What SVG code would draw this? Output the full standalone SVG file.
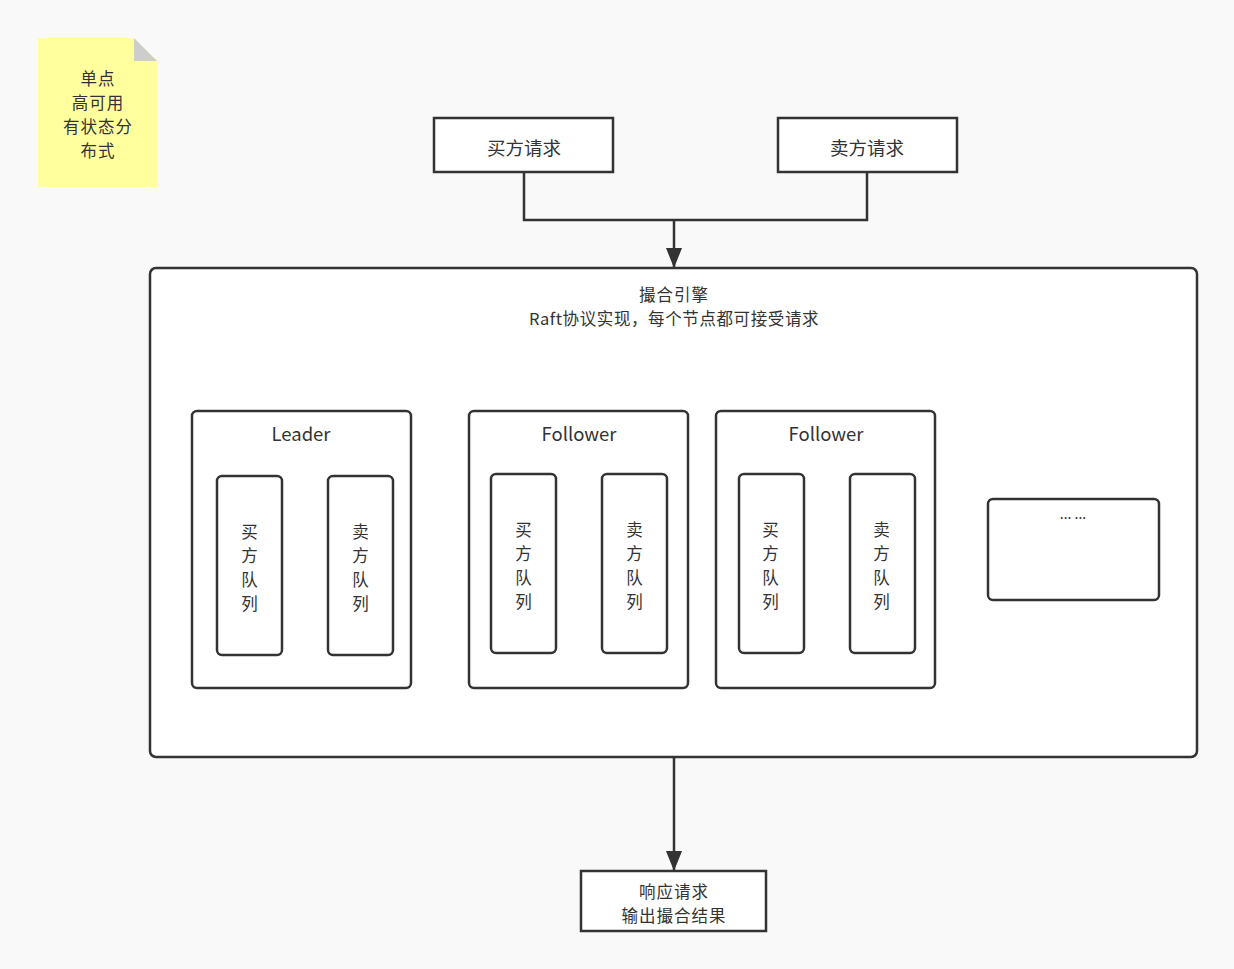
<svg xmlns="http://www.w3.org/2000/svg" width="1234" height="969" viewBox="0 0 1234 969">
<defs>
<marker id="arr" viewBox="0 0 20 16" refX="20" refY="8" markerWidth="20" markerHeight="16" markerUnits="userSpaceOnUse" orient="auto">
<path d="M0,0 L20,8 L0,16 Z" fill="#333"/>
</marker>
<style>
text{font-family:"Noto Sans CJK SC","Microsoft YaHei",sans-serif;font-size:18.5px;fill:#333;text-anchor:middle}
text.ml{font-size:16.5px;letter-spacing:1px}
.box{fill:#fff;stroke:#333;stroke-width:2.5}
.wire{fill:none;stroke:#333;stroke-width:2.5}
</style>
</defs>
<rect width="1234" height="969" fill="#f9f9f9"/>
<g id="note">
<path d="M38,38 H134 L157,61 V187 H38 Z" fill="#ffff9e"/>
<path d="M134,38 L157,61 H134 Z" fill="#cdcdcd"/>
<text class="ml" x="98" y="85">单点</text>
<text class="ml" x="98" y="109">高可用</text>
<text class="ml" x="98" y="133">有状态分</text>
<text class="ml" x="98" y="157">布式</text>
</g>
<g id="buy-req">
<rect class="box" x="434" y="118" width="179" height="54"/>
<text x="524" y="155">买方请求</text>
</g>
<g id="sell-req">
<rect class="box" x="778" y="118" width="179" height="54"/>
<text x="867" y="155">卖方请求</text>
</g>
<g id="engine">
<rect class="box" x="150" y="268" width="1047" height="489" rx="6"/>
<text class="ml" x="674" y="301">撮合引擎</text>
<text class="ml" x="674" y="325" style="letter-spacing:0.6px">Raft协议实现，每个节点都可接受请求</text>
</g>
<g id="leader">
<rect class="box" x="192" y="411" width="219" height="277" rx="5"/>
<text x="301" y="441">Leader</text>
<rect class="box" x="217" y="476" width="65" height="179" rx="5"/>
<text class="ml" x="250" y="538">买</text><text class="ml" x="250" y="562">方</text><text class="ml" x="250" y="586">队</text><text class="ml" x="250" y="610">列</text>
<rect class="box" x="328" y="476" width="65" height="179" rx="5"/>
<text class="ml" x="361" y="538">卖</text><text class="ml" x="361" y="562">方</text><text class="ml" x="361" y="586">队</text><text class="ml" x="361" y="610">列</text>
</g>
<g id="follower1">
<rect class="box" x="469" y="411" width="219" height="277" rx="5"/>
<text x="579" y="441">Follower</text>
<rect class="box" x="491" y="474" width="65" height="179" rx="5"/>
<text class="ml" x="524" y="536">买</text><text class="ml" x="524" y="560">方</text><text class="ml" x="524" y="584">队</text><text class="ml" x="524" y="608">列</text>
<rect class="box" x="602" y="474" width="65" height="179" rx="5"/>
<text class="ml" x="635" y="536">卖</text><text class="ml" x="635" y="560">方</text><text class="ml" x="635" y="584">队</text><text class="ml" x="635" y="608">列</text>
</g>
<g id="follower2">
<rect class="box" x="716" y="411" width="219" height="277" rx="5"/>
<text x="826" y="441">Follower</text>
<rect class="box" x="739" y="474" width="65" height="179" rx="5"/>
<text class="ml" x="771" y="536">买</text><text class="ml" x="771" y="560">方</text><text class="ml" x="771" y="584">队</text><text class="ml" x="771" y="608">列</text>
<rect class="box" x="850" y="474" width="65" height="179" rx="5"/>
<text class="ml" x="882" y="536">卖</text><text class="ml" x="882" y="560">方</text><text class="ml" x="882" y="584">队</text><text class="ml" x="882" y="608">列</text>
</g>
<g id="more">
<rect class="box" x="988" y="499" width="171" height="101" rx="5"/>
<text x="1073" y="519" style="font-size:14px">... ...</text>
</g>
<g id="response">
<rect class="box" x="581" y="871" width="185" height="60"/>
<text class="ml" x="674" y="898">响应请求</text>
<text class="ml" x="674" y="922">输出撮合结果</text>
</g>
<g id="connectors">
<path class="wire" d="M524,172 V220 H867 V172"/>
<path class="wire" d="M674,220 V268" marker-end="url(#arr)"/>
<path class="wire" d="M674,757 V871" marker-end="url(#arr)"/>
</g>
</svg>
